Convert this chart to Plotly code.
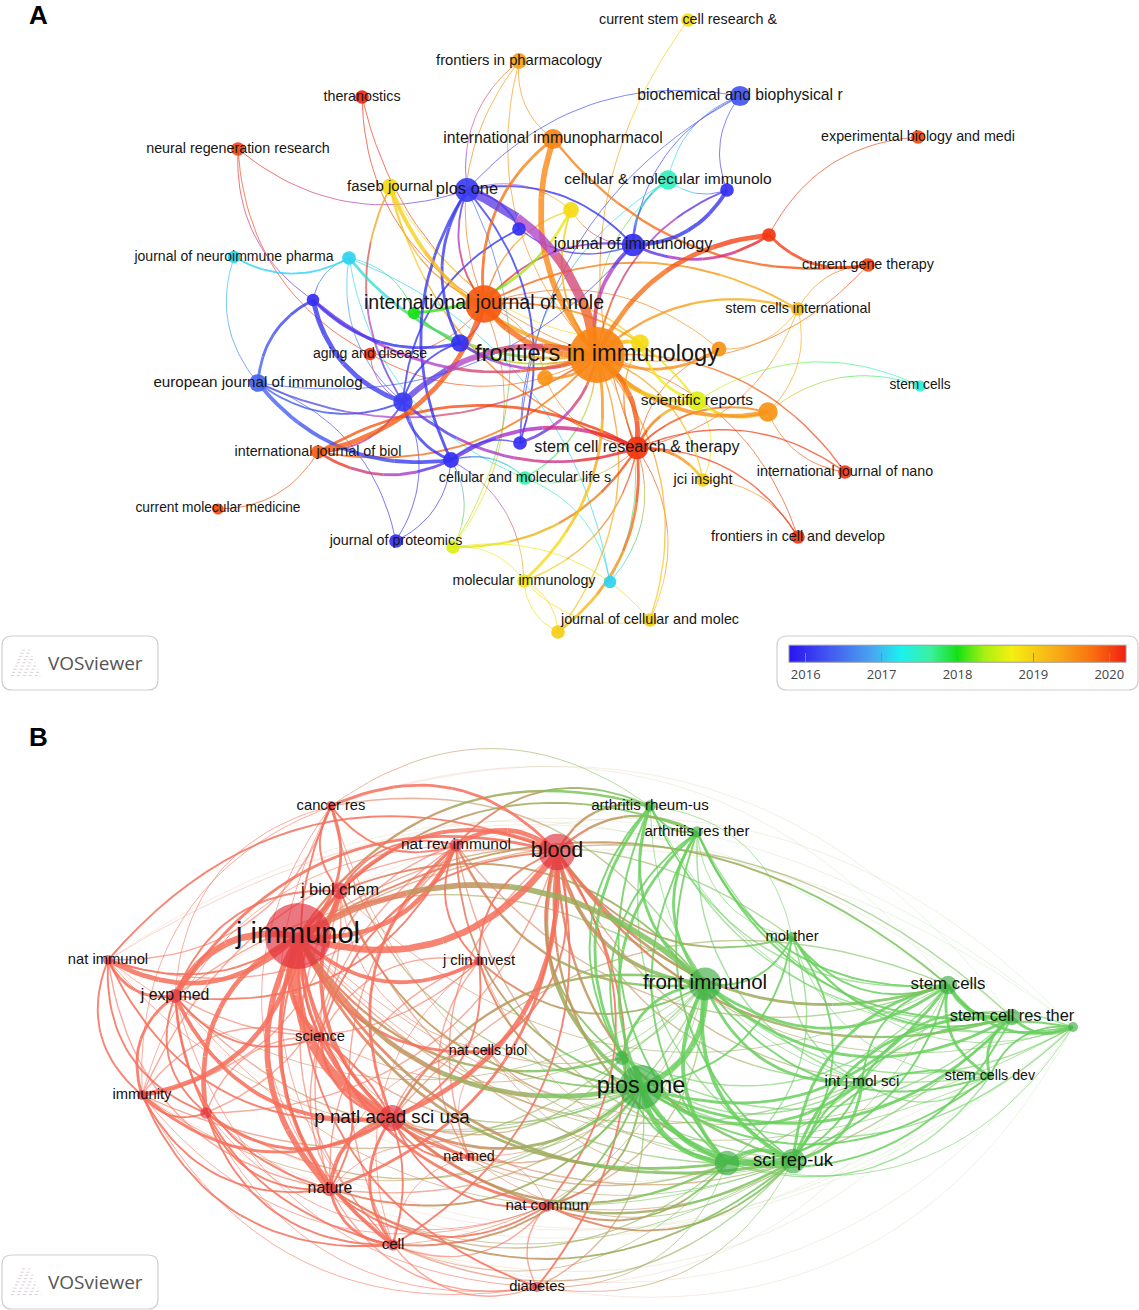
import colorsys
import plotly.graph_objects as go

W, H = 1139, 1310

# ---------------- panel A : overlay map, colour = average publication year ----------------
a_keys = ["fim", "ijm", "plos", "faseb", "thera", "neur", "fph", "cscr", "bbrc", "iip",
          "ebm", "cmi", "u1", "u2", "u3", "jim", "u4", "cgt", "jnp", "u5",
          "u6", "u7", "sci", "u8", "aging", "u9", "u10", "u11", "eji", "u12",
          "srep", "u13", "stc", "ijb", "u14", "scrt", "u15", "cmls", "jci", "ijn",
          "cmm", "jpr", "u16", "fcd", "mim", "u17", "jcm", "u18"]
a_labels = ["frontiers in immunology", "international journal of mole", "plos one", "faseb journal", "theranostics",
            "neural regeneration research", "frontiers in pharmacology", "current stem cell research &",
            "biochemical and biophysical r", "international immunopharmacol",
            "experimental biology and medi", "cellular & molecular immunolo", "", "", "",
            "journal of immunology", "", "current gene therapy", "journal of neuroimmune pharma", "",
            "", "", "stem cells international", "", "aging and disease",
            "", "", "", "european journal of immunolog", "",
            "scientific reports", "", "stem cells", "international journal of biol", "",
            "stem cell research & therapy", "", "cellular and molecular life s", "jci insight", "international journal of nano",
            "current molecular medicine", "journal of proteomics", "", "frontiers in cell and develop", "molecular immunology",
            "", "journal of cellular and molec", ""]
a_x = [597, 484, 467, 390, 362, 238, 519, 688, 740, 553,
       918, 668, 727, 571, 519, 633, 769, 868, 234, 349,
       313, 414, 798, 460, 370, 640, 719, 545, 258, 403,
       697, 768, 920, 318, 520, 637, 451, 525, 703, 845,
       218, 396, 453, 798, 524, 610, 650, 558]
a_y = [355, 304, 190, 187, 97, 149, 61, 20, 96, 139,
       137, 180, 190, 210, 229, 245, 235, 265, 257, 258,
       300, 313, 309, 343, 354, 343, 349, 378, 383, 402,
       401, 412, 386, 452, 443, 448, 460, 478, 480, 472,
       509, 541, 547, 537, 581, 582, 620, 632]
a_weight = [100, 45, 18, 9, 6, 6, 8, 6, 13, 13,
            6, 12, 6, 8, 6, 16, 6, 6, 5, 6,
            5, 5, 6, 10, 5, 10, 7, 8, 10, 12,
            12, 12, 4, 6, 6, 16, 8, 6, 6, 6,
            4, 6, 6, 6, 6, 5, 6, 6]
a_year = [2019.6, 2019.9, 2016.1, 2018.9, 2020.2, 2020.0, 2019.4, 2018.85, 2016.3, 2019.6,
          2020.0, 2017.5, 2016.0, 2018.9, 2016.0, 2016.0, 2020.1, 2020.0, 2017.1, 2017.1,
          2016.0, 2018.0, 2019.2, 2016.0, 2020.1, 2018.9, 2019.5, 2019.5, 2016.4, 2016.1,
          2018.6, 2019.5, 2017.4, 2019.9, 2016.0, 2020.1, 2016.0, 2017.6, 2019.0, 2020.1,
          2020.0, 2016.0, 2018.6, 2020.1, 2018.8, 2017.1, 2019.0, 2019.0]

a_edges = [
    ("fim", "plos", 10), ("iip", "fim", 6), ("ijm", "fim", 6), ("iip", "ijm", 3), ("fim", "u12", 6),
    ("u6", "u12", 5), ("eji", "u15", 4), ("ijb", "ijm", 5), ("jim", "u1", 4), ("u4", "fim", 5),
    ("u4", "cgt", 3), ("iip", "cgt", 2.5), ("faseb", "fim", 4), ("scrt", "fim", 5), ("fim", "u13", 4),
    ("fim", "srep", 4), ("fim", "u10", 3), ("scrt", "u15", 4), ("scrt", "ijb", 3), ("u7", "u2", 3),
    ("u5", "fim", 3), ("u16", "scrt", 2.5), ("mim", "fim", 3), ("u18", "scrt", 3), ("jci", "scrt", 3),
    ("srep", "u13", 3), ("plos", "u8", 3), ("plos", "u15", 3), ("jim", "fim", 4), ("u6", "eji", 3),
    ("u6", "fim", 3), ("u6", "u8", 3), ("ijb", "u15", 3), ("u12", "u15", 3), ("u12", "scrt", 3),
    ("jim", "u4", 3), ("faseb", "u12", 2), ("cmi", "jim", 2), ("u14", "fim", 3), ("u9", "fim", 4),
    ("u9", "srep", 3), ("u11", "fim", 3), ("u13", "scrt", 2), ("srep", "scrt", 3), ("fcd", "scrt", 1.5),
    ("ijn", "scrt", 1.5), ("ijn", "fim", 1.5), ("u13", "ijn", 1), ("stc", "srep", 1), ("stc", "u13", 1),
    ("sci", "fim", 2.5), ("sci", "ijm", 2), ("cgt", "sci", 1), ("ebm", "u4", 1), ("thera", "ijm", 1),
    ("neur", "aging", 1), ("neur", "plos", 1), ("neur", "u6", 1), ("jnp", "u5", 2), ("jnp", "eji", 1),
    ("fph", "ijm", 1), ("fph", "fim", 1), ("fph", "plos", 1), ("fph", "iip", 1), ("cscr", "scrt", 1),
    ("bbrc", "jim", 1), ("bbrc", "u1", 1), ("bbrc", "cmi", 1), ("bbrc", "u14", 1), ("bbrc", "plos", 1),
    ("cmi", "u14", 1), ("cmi", "fim", 1), ("cmi", "u1", 1), ("u2", "fim", 2), ("u2", "plos", 1),
    ("u2", "ijm", 1.5), ("u3", "plos", 2), ("u3", "jim", 1.5), ("u3", "u12", 2), ("jpr", "u15", 1),
    ("jpr", "u12", 1), ("jpr", "eji", 1), ("u16", "u15", 1), ("u16", "ijm", 1), ("u16", "plos", 1),
    ("mim", "u15", 1), ("mim", "scrt", 1.5), ("mim", "jcm", 1), ("mim", "u18", 1), ("u17", "cmls", 1),
    ("u17", "scrt", 1), ("u17", "u5", 1), ("jcm", "scrt", 1), ("jcm", "fim", 1.5), ("u18", "fim", 1.5),
    ("cmm", "ijb", 1), ("ijb", "fim", 2), ("ijb", "u12", 2), ("aging", "ijm", 1), ("aging", "fim", 1),
    ("aging", "u12", 1), ("eji", "fim", 2), ("eji", "u12", 2), ("eji", "jim", 1), ("cmls", "u15", 1.5),
    ("cmls", "fim", 1.5), ("cmls", "scrt", 1), ("u14", "plos", 2), ("u14", "u15", 1.5), ("u8", "fim", 3),
    ("u8", "u12", 2), ("u8", "ijm", 2), ("u7", "fim", 2), ("u7", "u5", 1), ("u5", "u6", 1),
    ("u5", "u12", 1), ("u5", "cmls", 1), ("u10", "ijm", 1), ("u10", "scrt", 1), ("u11", "scrt", 1),
    ("u11", "ijm", 1), ("faseb", "ijm", 1.5), ("faseb", "u9", 1), ("faseb", "scrt", 1.5), ("thera", "fim", 1),
    ("jim", "ijm", 2), ("jim", "plos", 2), ("plos", "ijm", 2), ("u1", "fim", 2), ("srep", "ijm", 2),
    ("jci", "fim", 1.5), ("jci", "srep", 1), ("fcd", "fim", 1), ("fcd", "jci", 1), ("u9", "scrt", 1.5),
    ("mim", "u16", 1), ("jcm", "u16", 1), ("u18", "mim", 1), ("u17", "fim", 1), ("scrt", "sci", 1),
    ("u13", "sci", 1), ("u10", "sci", 1), ("fim", "cgt", 1), ("u9", "ijm", 1.5), ("u2", "jim", 1),
]

# ---------------- panel B : two-cluster network ----------------
b_keys = ["jimm", "blood", "canc", "nri", "jbc", "nimm", "jem", "jci", "sci", "immu",
          "u1", "pnas", "ncb", "nmed", "nat", "ncom", "cell", "diab",
          "arh", "art", "mth", "fim", "stc", "scrt", "u2", "scd", "ijms", "plos", "u3", "srep", "u4"]
b_labels = ["j immunol", "blood", "cancer res", "nat rev immunol", "j biol chem", "nat immunol", "j exp med",
            "j clin invest", "science", "immunity",
            "", "p natl acad sci usa", "nat cells biol", "nat med", "nature", "nat commun", "cell", "diabetes",
            "arthritis rheum-us", "arthritis res ther", "mol ther", "front immunol", "stem cells",
            "stem cell res ther", "", "stem cells dev", "int j mol sci", "plos one", "", "sci rep-uk", ""]
b_x = [298, 557, 331, 456, 340, 108, 175, 479, 320, 142,
       206, 392, 488, 469, 330, 547, 393, 537,
       650, 697, 792, 705, 948, 1012, 1073, 990, 862, 641, 622, 793, 727]
b_y = [936, 852, 806, 845, 891, 960, 996, 961, 1037, 1095,
       1113, 1118, 1051, 1157, 1189, 1206, 1245, 1287,
       806, 832, 937, 984, 985, 1017, 1027, 1076, 1082, 1087, 1058, 1161, 1163]
b_weight = [130, 40, 3, 5, 8, 3, 6, 3, 3, 3,
            4, 20, 2, 2, 6, 4, 4, 3,
            4, 4, 3, 32, 10, 8, 3, 2, 4, 58, 6, 18, 18]
b_cluster = [1] * 18 + [2] * 13

b_edges = [
    ("jimm", "pnas", 10), ("jimm", "jem", 7), ("nimm", "jimm", 5), ("jimm", "blood", 7), ("jimm", "nri", 5),
    ("jimm", "jbc", 5), ("jimm", "canc", 3), ("immu", "jimm", 5), ("jimm", "u1", 5), ("jimm", "sci", 5),
    ("jimm", "nat", 6), ("jimm", "cell", 4), ("jimm", "jci", 4), ("jimm", "ncb", 3), ("jimm", "nmed", 3),
    ("jimm", "ncom", 3), ("jimm", "diab", 2),
    ("pnas", "blood", 5), ("pnas", "nat", 4), ("pnas", "cell", 3), ("jbc", "pnas", 4), ("jem", "pnas", 4),
    ("immu", "pnas", 3), ("u1", "pnas", 3), ("sci", "pnas", 3), ("nri", "pnas", 3), ("pnas", "ncom", 2),
    ("pnas", "nmed", 2), ("pnas", "jci", 2),
    ("blood", "nri", 5), ("blood", "jbc", 4), ("blood", "canc", 3), ("blood", "jem", 3), ("nat", "blood", 3),
    ("cell", "blood", 2), ("blood", "jci", 2), ("ncb", "blood", 2), ("diab", "blood", 2), ("blood", "nimm", 2),
    ("ncom", "blood", 2),
    ("nimm", "jem", 3), ("jem", "immu", 3), ("jem", "u1", 2), ("jem", "nat", 2), ("jem", "nri", 2),
    ("jem", "cell", 2), ("jem", "sci", 2), ("nimm", "immu", 2), ("nimm", "u1", 2), ("nimm", "nat", 1.5),
    ("nimm", "canc", 1.5), ("nimm", "nri", 1.5), ("canc", "jbc", 2), ("canc", "nri", 2), ("canc", "pnas", 2),
    ("immu", "nat", 2), ("immu", "u1", 2), ("immu", "cell", 2), ("immu", "diab", 1), ("u1", "nat", 2),
    ("u1", "cell", 2), ("nat", "cell", 3), ("nat", "sci", 2), ("nat", "ncom", 2), ("nat", "diab", 1.5),
    ("cell", "diab", 1.5), ("cell", "ncom", 1.5), ("cell", "sci", 2), ("nri", "jbc", 2), ("nri", "jci", 2),
    ("nri", "sci", 1.5), ("jci", "sci", 1.5), ("jci", "nmed", 1.5), ("ncb", "nmed", 1), ("ncom", "nmed", 1),
    ("ncom", "diab", 1.5), ("jbc", "sci", 2), ("jbc", "jem", 2), ("jbc", "nat", 2), ("u1", "jbc", 1.5),
    ("nimm", "jbc", 2), ("immu", "jbc", 1.5), ("nimm", "pnas", 2), ("u1", "blood", 1.5),
    ("canc", "jem", 1), ("canc", "immu", 1), ("canc", "nat", 1), ("canc", "cell", 1), ("nri", "nat", 1.5),
    ("nri", "cell", 1.5), ("nri", "immu", 1), ("jbc", "cell", 1.5), ("jbc", "ncb", 1), ("jci", "nat", 1.5),
    ("jci", "cell", 1), ("ncb", "nat", 1), ("ncb", "pnas", 1.5), ("nmed", "nat", 1), ("nmed", "cell", 1),
    ("sci", "immu", 1.5), ("sci", "u1", 1.5), ("sci", "cell", 1.5), ("jem", "diab", 1), ("u1", "diab", 1),
    ("u1", "ncom", 1), ("immu", "ncom", 1), ("jem", "jci", 1.5), ("blood", "sci", 2), ("blood", "nmed", 1.5),
    ("blood", "immu", 1.5),
    ("plos", "fim", 6), ("plos", "srep", 5), ("plos", "u4", 5), ("plos", "u3", 4), ("plos", "stc", 3),
    ("plos", "scrt", 3), ("plos", "ijms", 3), ("arh", "plos", 3), ("art", "plos", 3), ("plos", "mth", 2),
    ("plos", "scd", 2), ("plos", "u2", 1.5),
    ("fim", "srep", 4), ("fim", "u4", 4), ("arh", "fim", 3), ("art", "fim", 3), ("fim", "stc", 3),
    ("fim", "scrt", 3), ("fim", "ijms", 3), ("fim", "mth", 2), ("fim", "u3", 3), ("fim", "scd", 2),
    ("fim", "u2", 1.5),
    ("srep", "u4", 4), ("stc", "srep", 3), ("scrt", "srep", 3), ("srep", "ijms", 3), ("scd", "srep", 2),
    ("u2", "srep", 2), ("srep", "mth", 2), ("art", "srep", 2),
    ("u4", "stc", 2), ("u4", "scrt", 2), ("u4", "ijms", 2), ("arh", "u4", 2), ("art", "u4", 2),
    ("stc", "scrt", 4), ("stc", "u2", 3), ("stc", "scd", 3), ("mth", "stc", 2), ("stc", "ijms", 2),
    ("arh", "stc", 1.5), ("art", "stc", 2), ("scrt", "u2", 3), ("scrt", "scd", 3), ("scrt", "ijms", 2),
    ("mth", "scrt", 2), ("art", "scrt", 2), ("u2", "scd", 2), ("u2", "ijms", 1.5), ("arh", "art", 2),
    ("arh", "u3", 2), ("art", "u3", 2), ("mth", "ijms", 1.5), ("u3", "srep", 2), ("u3", "u4", 2),
    ("arh", "scrt", 1.5), ("arh", "u2", 1), ("art", "u2", 1.5),
    ("mth", "arh", 1), ("mth", "u2", 1), ("mth", "scd", 1), ("ijms", "scd", 1.5), ("u3", "stc", 1.5),
    ("u3", "scrt", 1.5), ("u3", "ijms", 1.5), ("u4", "scd", 1.5), ("u4", "u2", 1), ("u4", "mth", 1.5),
    ("art", "ijms", 1.5), ("arh", "ijms", 1), ("arh", "srep", 1.5), ("art", "mth", 1),
    ("fim", "jimm", 6), ("jimm", "plos", 5), ("jimm", "srep", 3), ("jimm", "u4", 3), ("arh", "jimm", 2.5),
    ("art", "jimm", 2), ("stc", "jimm", 2), ("jimm", "u3", 2.5), ("jimm", "ijms", 1.5), ("mth", "jimm", 1.5),
    ("scrt", "jimm", 1.5),
    ("blood", "fim", 4), ("blood", "plos", 4), ("blood", "stc", 3), ("arh", "blood", 2.5), ("art", "blood", 2.5),
    ("blood", "srep", 2.5), ("blood", "scrt", 2.5), ("blood", "u4", 2.5), ("blood", "mth", 2), ("blood", "u3", 2),
    ("blood", "ijms", 1.5),
    ("pnas", "plos", 3), ("fim", "pnas", 2.5), ("pnas", "srep", 2.5), ("pnas", "u4", 2.5), ("stc", "pnas", 1.5),
    ("nri", "fim", 2.5), ("nri", "plos", 2), ("arh", "nri", 2), ("jbc", "plos", 2), ("fim", "jbc", 2),
    ("fim", "jem", 1.5), ("jem", "plos", 1.5), ("nat", "plos", 2), ("nat", "srep", 2), ("cell", "plos", 2),
    ("cell", "srep", 1.5), ("ncom", "plos", 2), ("ncom", "srep", 2), ("ncom", "u4", 2), ("jci", "fim", 2),
    ("jci", "plos", 2), ("ncb", "plos", 1.5), ("nmed", "plos", 1.5), ("diab", "plos", 1.5), ("diab", "srep", 1),
    ("arh", "canc", 1), ("fim", "canc", 1.5), ("immu", "fim", 1.5), ("u1", "plos", 1.5), ("sci", "plos", 1.5),
    ("canc", "srep", 1), ("canc", "plos", 1.5), ("nimm", "plos", 1), ("nimm", "fim", 1), ("immu", "plos", 1),
    ("jem", "srep", 1), ("sci", "srep", 1), ("sci", "fim", 1), ("u1", "srep", 1), ("ncb", "srep", 1),
    ("ncb", "fim", 1), ("nmed", "srep", 1), ("nmed", "fim", 1), ("cell", "fim", 1), ("nat", "fim", 1.5),
    ("diab", "u4", 1), ("ncom", "fim", 1.5), ("ncom", "stc", 1), ("nat", "u4", 1.5), ("cell", "u4", 1),
    ("jci", "srep", 1), ("nri", "srep", 1.5), ("nri", "stc", 1.5), ("jbc", "srep", 1.5), ("jbc", "stc", 1),
    ("blood", "scd", 1.5), ("blood", "u2", 1), ("jimm", "scd", 1), ("jimm", "u2", 1), ("pnas", "scrt", 1.5),
    ("pnas", "ijms", 1.5), ("pnas", "u3", 1.5),
    ("u2", "nimm", 0.6), ("stc", "nimm", 0.6), ("scrt", "canc", 0.6), ("u2", "jem", 0.6), ("stc", "canc", 0.6),
    ("u2", "jbc", 0.6), ("scrt", "nimm", 0.6),
    ("immu", "u2", 0.6), ("diab", "u2", 0.6), ("cell", "u2", 0.6), ("immu", "scd", 0.6), ("diab", "stc", 0.6),
    ("nimm", "scd", 0.6), ("cell", "scrt", 0.6), ("u1", "u2", 0.6),
]

# VOSviewer overlay colour scale (blue 2016 -> red 2020)
YMIN, YMAX = 2015.78, 2020.22
SCALE = [[0.0, "#2814f2"], [0.12, "#4458f0"], [0.25, "#48a8f0"], [0.33, "#1cf0f0"],
         [0.42, "#3cf0a0"], [0.5, "#16e016"], [0.58, "#a8f012"], [0.66, "#f4f012"],
         [0.8, "#f8a818"], [0.9, "#f87010"], [1.0, "#f02010"]]


def hex_rgb(h):
    h = h.lstrip("#")
    return [int(h[i:i + 2], 16) for i in (0, 2, 4)]


def year_rgb(yr):
    t = min(max((yr - YMIN) / (YMAX - YMIN), 0), 1)
    for (t0, c0), (t1, c1) in zip(SCALE[:-1], SCALE[1:]):
        if t0 <= t <= t1:
            f = (t - t0) / (t1 - t0)
            a, b = hex_rgb(c0), hex_rgb(c1)
            return [a[i] + (b[i] - a[i]) * f for i in range(3)]
    return hex_rgb(SCALE[-1][1])


def mix_rgb(c1, c2, t):
    return [c1[k] * (1 - t) + c2[k] * t for k in range(3)]


def mix_soft(c1, c2, t):
    # halfway between a straight rgb blend and a blend along the hue circle
    h1, s1, v1 = colorsys.rgb_to_hsv(*[v / 255 for v in c1])
    h2, s2, v2 = colorsys.rgb_to_hsv(*[v / 255 for v in c2])
    dh = h2 - h1
    if dh > 0.5:
        dh -= 1
    elif dh < -0.5:
        dh += 1
    r, g, b = colorsys.hsv_to_rgb((h1 + dh * t) % 1, s1 + (s2 - s1) * t, v1 + (v2 - v1) * t)
    lin = mix_rgb(c1, c2, t)
    return [(lin[0] + r * 255) / 2, (lin[1] + g * 255) / 2, (lin[2] + b * 255) / 2]


def curve(x0, y0, x1, y1, bend, n=25):
    mx, my = (x0 + x1) / 2, (y0 + y1) / 2
    cx, cy = mx - (y1 - y0) * bend, my + (x1 - x0) * bend
    xs, ys = [], []
    for i in range(n):
        t = i / (n - 1)
        xs.append((1 - t) ** 2 * x0 + 2 * (1 - t) * t * cx + t * t * x1)
        ys.append((1 - t) ** 2 * y0 + 2 * (1 - t) * t * cy + t * t * y1)
    return xs, ys


def edge_traces(edges, keys, xs, ys, rgb, mixer, alpha_of, bend, nseg=4):
    # lines are drawn with a colour gradient from one node to the other
    idx = {k: i for i, k in enumerate(keys)}
    groups = {}
    step = 24 // nseg
    for a, b, w in sorted(edges, key=lambda e: e[2]):
        i, j = idx[a], idx[b]
        px, py = curve(xs[i], ys[i], xs[j], ys[j], bend)
        for s in range(nseg):
            c = mixer(rgb[i], rgb[j], (s + 0.5) / nseg)
            c = [int(round(v / 3) * 3) for v in c]
            col = "rgba(%d,%d,%d,%.2f)" % (c[0], c[1], c[2], alpha_of(w))
            g = groups.setdefault((col, w), ([], []))
            g[0].extend(px[s * step:(s + 1) * step + 1] + [None])
            g[1].extend(py[s * step:(s + 1) * step + 1] + [None])
    out = []
    for (col, w), (gx, gy) in sorted(groups.items(), key=lambda kv: kv[0][1]):
        out.append(go.Scatter(x=gx, y=gy, mode="lines", line=dict(color=col, width=w * 0.95),
                              hoverinfo="skip", showlegend=False))
    return out


a_rgb = [year_rgb(y) for y in a_year]
b_rgb = [(246, 110, 90) if c == 1 else (104, 206, 92) for c in b_cluster]

fig = go.Figure()

for t in edge_traces(a_edges, a_keys, a_x, a_y, a_rgb, mix_soft,
                     lambda w: 0.78 if w >= 2 else 0.7, 0.28):
    fig.add_trace(t)

fig.add_trace(go.Scatter(
    x=a_x, y=a_y, mode="markers", hoverinfo="text", hovertext=a_labels, showlegend=False,
    marker=dict(size=[5.6 * w ** 0.5 for w in a_weight], color=a_year, colorscale=SCALE,
                cmin=YMIN, cmax=YMAX, opacity=0.92, line=dict(width=0),
                colorbar=dict(orientation="h", x=957.5 / W, xanchor="center", y=1 - 669 / H,
                              yanchor="middle", len=337, lenmode="pixels", thickness=17,
                              thicknessmode="pixels", tickvals=[2016, 2017, 2018, 2019, 2020],
                              ticks="inside", ticklen=9, tickcolor="#888", tickwidth=1,
                              tickfont=dict(family="Open Sans, Arial", size=13, color="#444"),
                              outlinewidth=1, outlinecolor="#999", xpad=0, ypad=0))))

a_lab_idx = [i for i, s in enumerate(a_labels) if s]
fig.add_trace(go.Scatter(
    x=[a_x[i] for i in a_lab_idx], y=[a_y[i] for i in a_lab_idx], mode="text",
    text=[a_labels[i] for i in a_lab_idx], hoverinfo="skip", showlegend=False,
    textfont=dict(family="Liberation Sans, Arial", color="#161616",
                  size=[11.3 + 1.23 * a_weight[i] ** 0.5 for i in a_lab_idx])))

for t in edge_traces(b_edges, b_keys, b_x, b_y, b_rgb, mix_rgb,
                     lambda w: 0.85 if w >= 2 else (0.6 if w >= 1 else 0.3), 0.36):
    fig.add_trace(t)

b_node_col = ["rgba(224,44,58,0.92)" if c == 1 else "rgba(56,172,64,0.92)" for c in b_cluster]
fig.add_trace(go.Scatter(
    x=b_x, y=b_y, mode="markers", hoverinfo="text", hovertext=b_labels, showlegend=False,
    marker=dict(size=[5.8 * w ** 0.5 for w in b_weight], color=b_node_col, line=dict(width=0))))

b_lab_idx = [i for i, s in enumerate(b_labels) if s]
fig.add_trace(go.Scatter(
    x=[b_x[i] for i in b_lab_idx], y=[b_y[i] for i in b_lab_idx], mode="text",
    text=[b_labels[i] for i in b_lab_idx], hoverinfo="skip", showlegend=False,
    textfont=dict(family="Liberation Sans, Arial", color="#111",
                  size=[12.2 + 1.47 * b_weight[i] ** 0.5 for i in b_lab_idx])))


def rounded_box(x0, y0, x1, y1, r=10):
    return ("M %f,%f H %f Q %f,%f %f,%f V %f Q %f,%f %f,%f H %f Q %f,%f %f,%f V %f Q %f,%f %f,%f Z"
            % (x0 + r, y0, x1 - r, x1, y0, x1, y0 + r, y1 - r, x1, y1, x1 - r, y1,
               x0 + r, x0, y1, x0, y1 - r, y0 + r, x0, y0, x0 + r, y0))


shapes = []
annos = []
for top in (636, 1255):
    shapes.append(dict(type="path", path=rounded_box(2, top, 158, top + 54), xref="x", yref="y",
                       line=dict(color="#d0d0d0", width=1.2), layer="below"))
    # faint logo glyph
    for k in range(9):
        half = 4 + k * 1.4
        shapes.append(dict(type="line", xref="x", yref="y", x0=26 - half, x1=26 + half,
                           y0=top + 14 + k * 3.2, y1=top + 14 + k * 3.2,
                           line=dict(color="rgba(170,150,170,0.45)", width=1, dash="dot")))
    annos.append(dict(x=95, y=top + 27, xref="x", yref="y", text="VOSviewer", showarrow=False,
                      font=dict(family="Open Sans, Arial", size=19, color="#555")))

shapes.append(dict(type="path", path=rounded_box(777, 636, 1138, 690), xref="x", yref="y",
                   line=dict(color="#d0d0d0", width=1.2), layer="below"))

annos.append(dict(x=38, y=15, xref="x", yref="y", text="<b>A</b>", showarrow=False,
                  font=dict(family="Liberation Sans, Arial", size=26, color="#000")))
annos.append(dict(x=38, y=737, xref="x", yref="y", text="<b>B</b>", showarrow=False,
                  font=dict(family="Liberation Sans, Arial", size=26, color="#000")))

fig.update_layout(
    width=W, height=H, margin=dict(l=0, r=0, t=0, b=0),
    paper_bgcolor="white", plot_bgcolor="white",
    xaxis=dict(range=[0, W], visible=False, fixedrange=True),
    yaxis=dict(range=[H, 0], visible=False, fixedrange=True),
    shapes=shapes, annotations=annos, showlegend=False,
)

fig.write_html("out.html", config={"displayModeBar": False},
               post_script="document.body.style.margin='0';")
